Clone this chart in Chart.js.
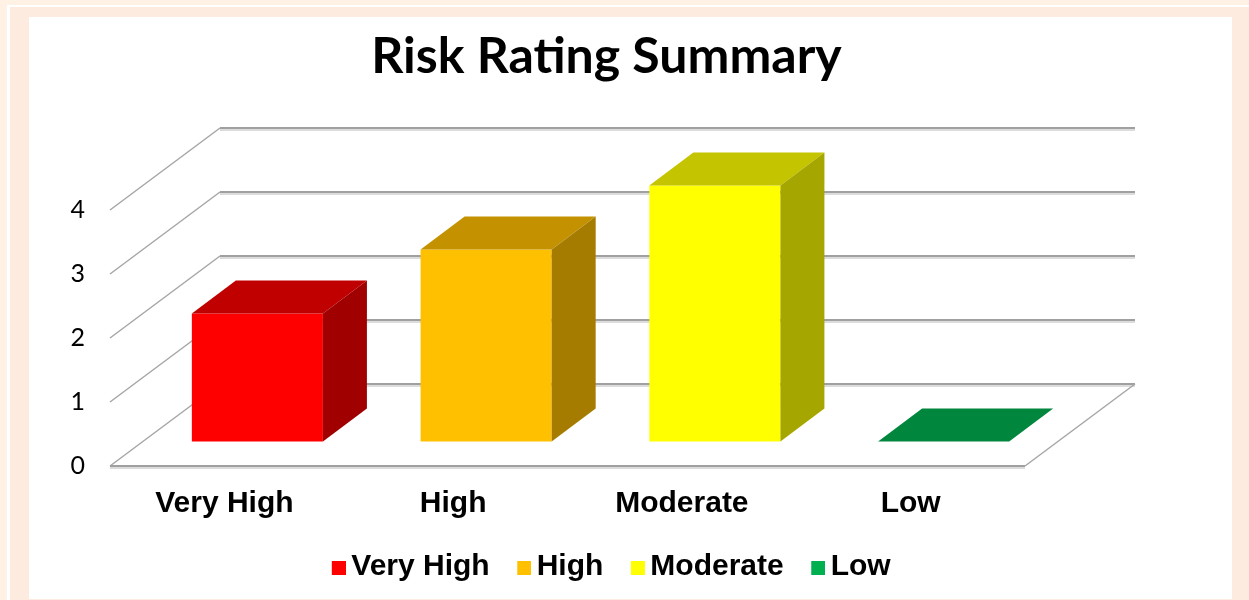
<!DOCTYPE html>
<html><head><meta charset="utf-8">
<script src="https://cdn.jsdelivr.net/npm/chart.js@4.4.1/dist/chart.umd.min.js"></script>
<style>
html,body{margin:0;padding:0;}
body{width:1249px;height:600px;overflow:hidden;background:#fff2e4;position:relative;}
#f1{position:absolute;left:7px;top:5px;right:0;bottom:0;background:#ffffff;}
#f2{position:absolute;left:10px;top:7px;right:0;bottom:0;background:#fdebe0;}
#panel{position:absolute;left:29px;top:17px;width:1203px;height:582px;background:#ffffff;}
canvas{position:absolute;left:0;top:0;}
</style></head>
<body><div id="f1"></div><div id="f2"></div><div id="panel"></div>
<canvas id="c" width="1249" height="600"></canvas>
<script>
const categories = ['Very High', 'High', 'Moderate', 'Low'];
const values = [2, 3, 4, 0];
const yTicks = [0, 1, 2, 3, 4];
const frontColors = ['#ff0000', '#ffc000', '#ffff00', '#00b050'];
const topColors = ['#c00000', '#c49200', '#c4c400', '#00863d'];
const sideColors = ['#a00000', '#a67c00', '#a6a600', '#007233'];

const DX = 110, DY = -82, FRONT = 0.3, DEPTH = 0.4;

function legendBox(color) {
  const c = document.createElement('canvas');
  c.width = 33; c.height = 20;
  const g = c.getContext('2d');
  g.fillStyle = color;
  g.fillRect(19, 4, 14, 14);
  return c;
}

const threeD = {
  id: 'threeD',
  beforeDatasetsDraw(chart) {
    const {ctx, chartArea: a, scales: {y}} = chart;
    ctx.save();
    const line = (x1, y1, x2, y2, c, w) => {
      ctx.beginPath(); ctx.moveTo(x1, y1); ctx.lineTo(x2, y2);
      ctx.strokeStyle = c; ctx.lineWidth = w; ctx.stroke();
    };
    yTicks.forEach(v => {
      const py = y.getPixelForValue(v);
      const by = py + DY;
      line(a.left + DX, by + 2, a.right + DX, by + 2, '#dcdcdc', 2);
      line(a.left + DX, by, a.right + DX, by, '#a0a0a0', 2);
      line(a.left, py, a.left + DX, by, '#a6a6a6', 1.5);
    });
    const p0 = y.getPixelForValue(0);
    line(a.left, p0 + 2, a.right, p0 + 2, '#dcdcdc', 2);
    line(a.left, p0, a.right, p0, '#a0a0a0', 2);
    line(a.right, p0, a.right + DX, p0 + DY, '#a6a6a6', 1.5);
    ctx.restore();
  },
  beforeDatasetDraw(chart) {
    chart.ctx.save();
    chart.ctx.translate(DX * FRONT, DY * FRONT);
  },
  afterDatasetDraw(chart, args) {
    const ctx = chart.ctx;
    const i = args.index;
    const el = args.meta.data[i];
    if (el) {
      const p = el.getProps(['x', 'y', 'base', 'width'], true);
      const bx = DX * DEPTH, by = DY * DEPTH;
      const L = p.x - p.width / 2, R = p.x + p.width / 2;
      const T = Math.min(p.y, p.base), B = Math.max(p.y, p.base);
      ctx.fillStyle = topColors[i];
      ctx.beginPath();
      ctx.moveTo(L, T); ctx.lineTo(R, T); ctx.lineTo(R + bx, T + by); ctx.lineTo(L + bx, T + by);
      ctx.closePath(); ctx.fill();
      if (B - T > 0.5) {
        ctx.fillStyle = sideColors[i];
        ctx.beginPath();
        ctx.moveTo(R, T); ctx.lineTo(R + bx, T + by); ctx.lineTo(R + bx, B + by); ctx.lineTo(R, B);
        ctx.closePath(); ctx.fill();
      }
    }
    ctx.restore();
  }
};

const labelFont = {family: "'Liberation Sans', Arial, sans-serif", weight: 'bold', size: 30};

new Chart(document.getElementById('c'), {
  type: 'bar',
  data: {
    labels: categories,
    datasets: categories.map((c, i) => ({
      label: c,
      data: values.map((v, j) => (j === i ? v : null)),
      backgroundColor: frontColors[i],
      borderWidth: 0,
      skipNull: true,
      clip: false,
      barPercentage: 0.573,
      categoryPercentage: 1.0
    }))
  },
  options: {
    responsive: false,
    animation: false,
    layout: {padding: {top: 0, left: 0, right: 36, bottom: 8}},
    plugins: {
      tooltip: {enabled: false},
      title: {
        display: true,
        text: 'Risk Rating Summary',
        color: '#000',
        font: {family: 'Lato', weight: 'bold', size: 50, lineHeight: 1.2},
        padding: {top: 27, bottom: 123}
      },
      legend: {
        position: 'bottom',
        labels: {
          color: '#000',
          font: labelFont,
          usePointStyle: true,
          boxWidth: 14,
          boxHeight: 14,
          padding: 18,
          generateLabels(chart) {
            return chart.data.datasets.map((ds, i) => ({
              text: ds.label,
              fillStyle: frontColors[i],
              strokeStyle: frontColors[i],
              lineWidth: 0,
              pointStyle: legendBox(frontColors[i]),
              hidden: false,
              datasetIndex: i,
              fontColor: '#000'
            }));
          }
        }
      }
    },
    scales: {
      x: {
        type: 'category',
        offset: true,
        grid: {display: false, drawTicks: false},
        border: {display: false},
        ticks: {color: '#000', font: labelFont, padding: 20, maxRotation: 0, autoSkip: false},
        afterFit(s) { s.height = 68; }
      },
      y: {
        type: 'linear',
        position: 'left',
        min: 0, max: 4,
        grid: {display: false, drawTicks: false},
        border: {display: false},
        ticks: {stepSize: 1, color: '#000', padding: 25, font: {family: 'Lato', size: 25}},
        afterFit(s) { s.width = 110; }
      },
      yR: {
        type: 'linear',
        position: 'right',
        min: 0, max: 4,
        grid: {display: false, drawTicks: false},
        border: {display: false},
        ticks: {display: false},
        afterFit(s) { s.width = 188; }
      }
    }
  },
  plugins: [threeD]
});
</script>
</body></html>
